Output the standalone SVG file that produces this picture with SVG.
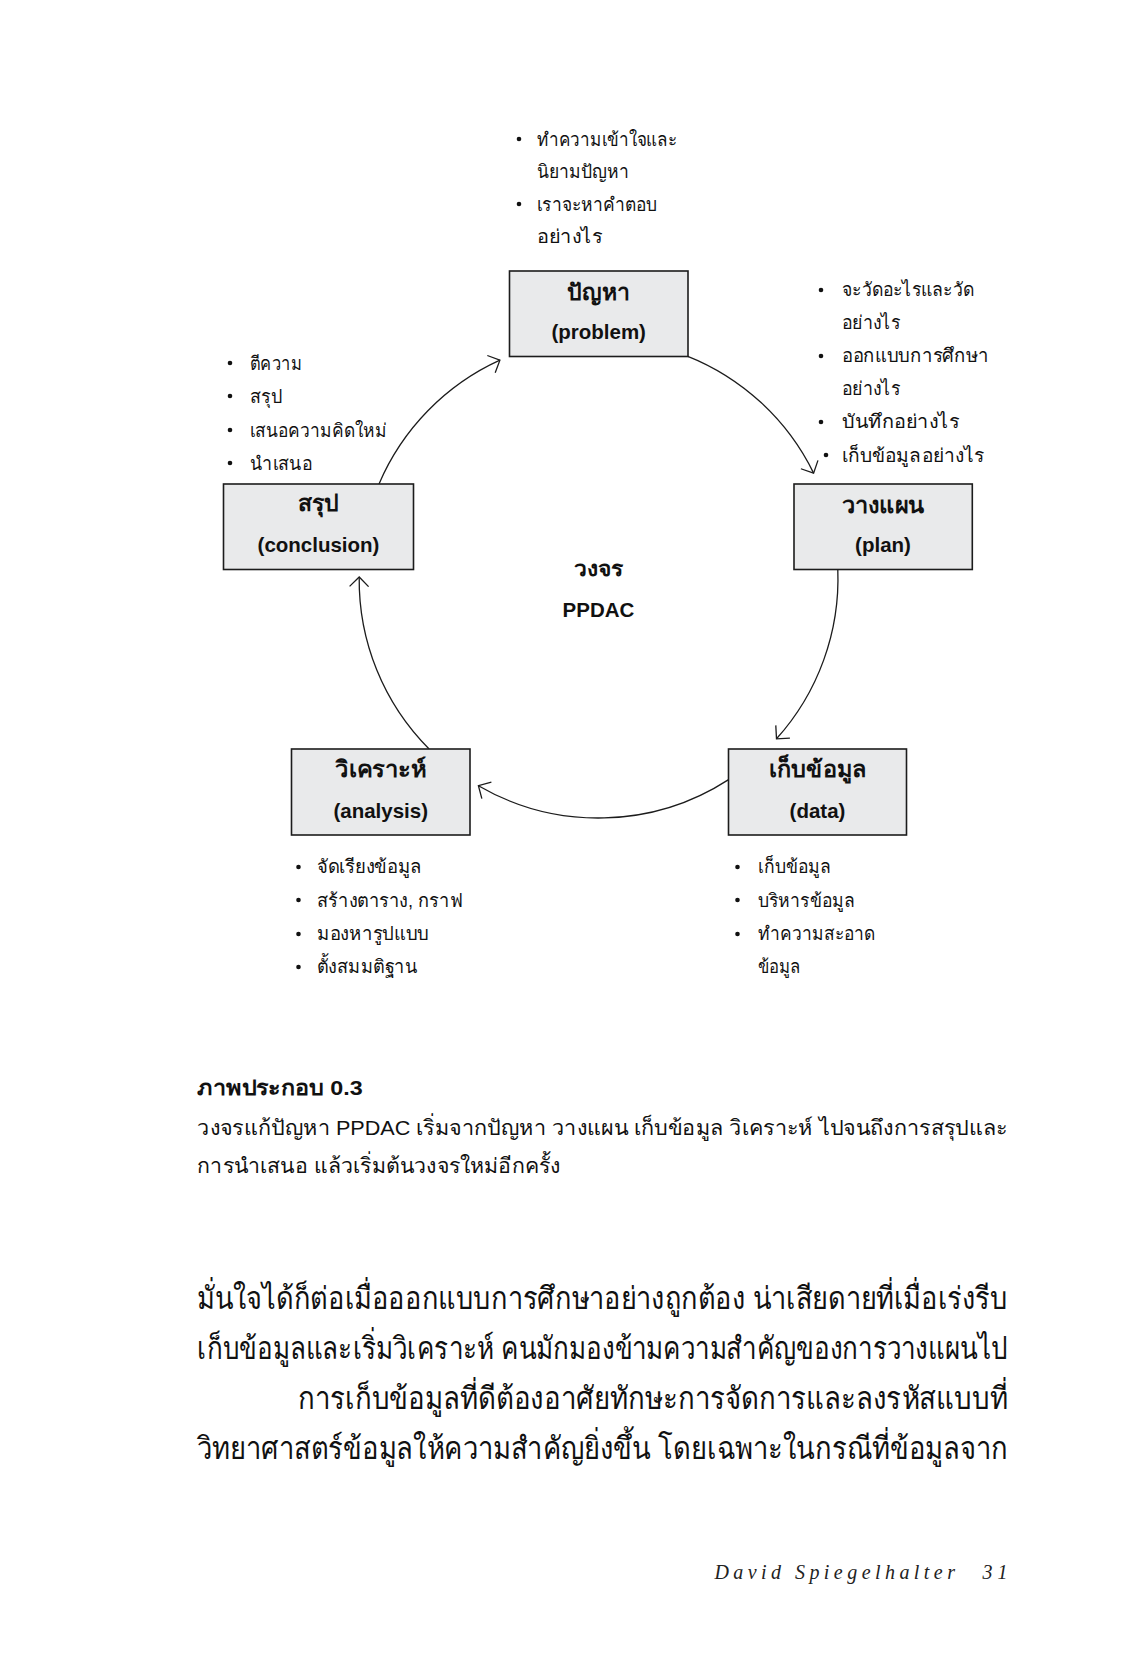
<svg xmlns="http://www.w3.org/2000/svg" width="1126" height="1654" viewBox="0 0 1126 1654">
<style>
.bg{fill:#ffffff}
.box{fill:#e9eaeb;stroke:#1c1c1c;stroke-width:1.6}
.ttl{font-family:"Liberation Sans","Noto Sans",sans-serif;font-weight:bold;font-size:23px;fill:#111;text-anchor:middle}
.ctr{font-family:"Liberation Sans","Noto Sans",sans-serif;font-weight:bold;font-size:21px;fill:#111;text-anchor:middle}
.en{font-family:"Liberation Sans",Arial,sans-serif;font-weight:bold;font-size:20.5px;fill:#111;text-anchor:middle}
.bl{font-family:"Liberation Sans","Noto Sans",sans-serif;font-size:19px;fill:#111}
.dot{fill:#111}
.arc{fill:none;stroke:#1c1c1c;stroke-width:1.3}
.cap{font-family:"Liberation Sans","Noto Sans",sans-serif;font-size:21px;fill:#111}
.body{font-family:"Liberation Sans","Noto Sans",sans-serif;font-size:31px;fill:#111}
.foot{font-family:"Liberation Serif",serif;font-style:italic;font-size:20px;fill:#222}
</style>
<defs>
<marker id="ah" markerUnits="userSpaceOnUse" markerWidth="22" markerHeight="22" refX="10" refY="10" orient="auto">
<path d="M0.5,0.5 L10,10 L0.5,19.5" fill="none" stroke="#1c1c1c" stroke-width="1.3"/>
</marker>
</defs>
<rect class="bg" x="0" y="0" width="1126" height="1654"/>

<g id="connectors">
<path class="arc" d="M379,484 A239.5,239.5 0 0 1 499.9,360.2" marker-end="url(#ah)"/>
<path class="arc" d="M686.6,355.8 A239.5,239.5 0 0 1 813.6,473.1" marker-end="url(#ah)"/>
<path class="arc" d="M837.8,569.5 A239.5,239.5 0 0 1 776.5,738.8" marker-end="url(#ah)"/>
<path class="arc" d="M728.6,779.6 A239.5,239.5 0 0 1 478.4,785.7" marker-end="url(#ah)"/>
<path class="arc" d="M429.1,749 A239.5,239.5 0 0 1 359.2,577" marker-end="url(#ah)"/>
</g>

<g id="node-problem">
<rect class="box" x="509.5" y="271" width="178.5" height="85.5"/>
<text class="ttl" x="598.7" y="300" textLength="63" lengthAdjust="spacingAndGlyphs">ปัญหา</text>
<text class="en" x="598.7" y="339">(problem)</text>
</g>
<g id="node-plan">
<rect class="box" x="794" y="484" width="178.3" height="85.5"/>
<text class="ttl" x="883" y="513" textLength="83" lengthAdjust="spacingAndGlyphs">วางแผน</text>
<text class="en" x="883" y="552">(plan)</text>
</g>
<g id="node-data">
<rect class="box" x="728.5" y="749" width="178" height="86"/>
<text class="ttl" x="817.5" y="777" textLength="98" lengthAdjust="spacingAndGlyphs">เก็บข้อมูล</text>
<text class="en" x="817.5" y="818">(data)</text>
</g>
<g id="node-analysis">
<rect class="box" x="291.5" y="749" width="178.5" height="86"/>
<text class="ttl" x="380.7" y="777" textLength="91" lengthAdjust="spacingAndGlyphs">วิเคราะห์</text>
<text class="en" x="380.7" y="818">(analysis)</text>
</g>
<g id="node-conclusion">
<rect class="box" x="223.5" y="484" width="190" height="85.5"/>
<text class="ttl" x="318.5" y="511" textLength="41" lengthAdjust="spacingAndGlyphs">สรุป</text>
<text class="en" x="318.5" y="552">(conclusion)</text>
</g>

<g id="center-label">
<text class="ctr" x="598.5" y="576" textLength="49" lengthAdjust="spacingAndGlyphs">วงจร</text>
<text class="en" x="598.5" y="617">PPDAC</text>
</g>

<g id="notes-problem">
<circle class="dot" cx="519" cy="139" r="2.3"/>
<circle class="dot" cx="519" cy="204" r="2.3"/>
<text class="bl" x="537" y="146" textLength="140" lengthAdjust="spacingAndGlyphs">ทำความเข้าใจและ</text>
<text class="bl" x="537" y="178" textLength="92" lengthAdjust="spacingAndGlyphs">นิยามปัญหา</text>
<text class="bl" x="537" y="211" textLength="120" lengthAdjust="spacingAndGlyphs">เราจะหาคำตอบ</text>
<text class="bl" x="537" y="243" textLength="65" lengthAdjust="spacingAndGlyphs">อย่างไร</text>
</g>

<g id="notes-plan">
<circle class="dot" cx="821" cy="290" r="2.3"/>
<circle class="dot" cx="821" cy="356" r="2.3"/>
<circle class="dot" cx="821" cy="422" r="2.3"/>
<circle class="dot" cx="826" cy="455" r="2.3"/>
<text class="bl" x="842" y="296" textLength="132" lengthAdjust="spacingAndGlyphs">จะวัดอะไรและวัด</text>
<text class="bl" x="842" y="329" textLength="58" lengthAdjust="spacingAndGlyphs">อย่างไร</text>
<text class="bl" x="842" y="362" textLength="147" lengthAdjust="spacingAndGlyphs">ออกแบบการศึกษา</text>
<text class="bl" x="842" y="395" textLength="58" lengthAdjust="spacingAndGlyphs">อย่างไร</text>
<text class="bl" x="842" y="428" textLength="117" lengthAdjust="spacingAndGlyphs">บันทึกอย่างไร</text>
<text class="bl" x="842" y="462" textLength="142" lengthAdjust="spacingAndGlyphs">เก็บข้อมูลอย่างไร</text>
</g>

<g id="notes-conclusion">
<circle class="dot" cx="230" cy="363" r="2.3"/>
<circle class="dot" cx="230" cy="396" r="2.3"/>
<circle class="dot" cx="230" cy="430" r="2.3"/>
<circle class="dot" cx="230" cy="463" r="2.3"/>
<text class="bl" x="250" y="370" textLength="52" lengthAdjust="spacingAndGlyphs">ตีความ</text>
<text class="bl" x="250" y="403" textLength="32" lengthAdjust="spacingAndGlyphs">สรุป</text>
<text class="bl" x="250" y="437" textLength="137" lengthAdjust="spacingAndGlyphs">เสนอความคิดใหม่</text>
<text class="bl" x="250" y="470" textLength="62" lengthAdjust="spacingAndGlyphs">นำเสนอ</text>
</g>

<g id="notes-analysis">
<circle class="dot" cx="298.5" cy="867" r="2.3"/>
<circle class="dot" cx="298.5" cy="900" r="2.3"/>
<circle class="dot" cx="298.5" cy="934" r="2.3"/>
<circle class="dot" cx="298.5" cy="967" r="2.3"/>
<text class="bl" x="317" y="873" textLength="105" lengthAdjust="spacingAndGlyphs">จัดเรียงข้อมูล</text>
<text class="bl" x="317" y="907" textLength="145" lengthAdjust="spacingAndGlyphs">สร้างตาราง, กราฟ</text>
<text class="bl" x="317" y="940" textLength="112" lengthAdjust="spacingAndGlyphs">มองหารูปแบบ</text>
<text class="bl" x="317" y="973" textLength="100" lengthAdjust="spacingAndGlyphs">ตั้งสมมติฐาน</text>
</g>

<g id="notes-data">
<circle class="dot" cx="737.5" cy="867" r="2.3"/>
<circle class="dot" cx="737.5" cy="900" r="2.3"/>
<circle class="dot" cx="737.5" cy="934" r="2.3"/>
<text class="bl" x="758" y="873" textLength="73" lengthAdjust="spacingAndGlyphs">เก็บข้อมูล</text>
<text class="bl" x="758" y="907" textLength="97" lengthAdjust="spacingAndGlyphs">บริหารข้อมูล</text>
<text class="bl" x="758" y="940" textLength="117" lengthAdjust="spacingAndGlyphs">ทำความสะอาด</text>
<text class="bl" x="758" y="973" textLength="43" lengthAdjust="spacingAndGlyphs">ข้อมูล</text>
</g>

<g id="caption">
<text class="cap" x="197.3" y="1095" font-weight="bold" textLength="165.5" lengthAdjust="spacingAndGlyphs">ภาพประกอบ 0.3</text>
<text class="cap" x="197.3" y="1135" textLength="810.5" lengthAdjust="spacingAndGlyphs">วงจรแก้ปัญหา PPDAC เริ่มจากปัญหา วางแผน เก็บข้อมูล วิเคราะห์ ไปจนถึงการสรุปและ</text>
<text class="cap" x="197.3" y="1173" textLength="363" lengthAdjust="spacingAndGlyphs">การนำเสนอ แล้วเริ่มต้นวงจรใหม่อีกครั้ง</text>
</g>

<g id="body">
<text class="body" x="197.3" y="1309" textLength="810.5" lengthAdjust="spacingAndGlyphs">มั่นใจได้ก็ต่อเมื่อออกแบบการศึกษาอย่างถูกต้อง น่าเสียดายที่เมื่อเร่งรีบ</text>
<text class="body" x="197.3" y="1359" textLength="810.5" lengthAdjust="spacingAndGlyphs">เก็บข้อมูลและเริ่มวิเคราะห์ คนมักมองข้ามความสำคัญของการวางแผนไป</text>
<text class="body" x="297.6" y="1409" textLength="710.2" lengthAdjust="spacingAndGlyphs">การเก็บข้อมูลที่ดีต้องอาศัยทักษะการจัดการและลงรหัสแบบที่</text>
<text class="body" x="197.3" y="1459" textLength="810.5" lengthAdjust="spacingAndGlyphs">วิทยาศาสตร์ข้อมูลให้ความสำคัญยิ่งขึ้น  โดยเฉพาะในกรณีที่ข้อมูลจาก</text>
</g>

<g id="footer">
<text class="foot" x="714.4" y="1579" textLength="240.6" lengthAdjust="spacing">David Spiegelhalter</text>
<text class="foot" x="982.5" y="1579" font-style="normal" textLength="25" lengthAdjust="spacing">31</text>
</g>
</svg>
